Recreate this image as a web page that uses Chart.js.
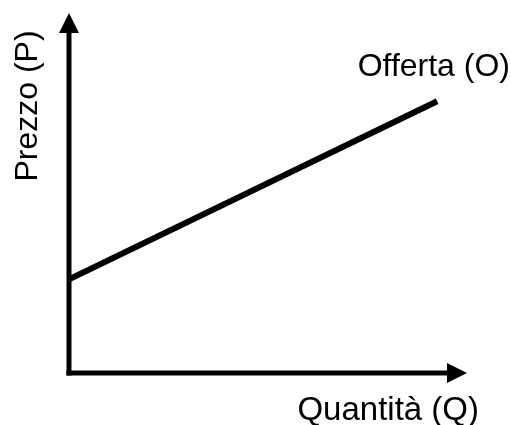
<!DOCTYPE html>
<html>
<head>
<meta charset="utf-8">
<script src="https://cdn.jsdelivr.net/npm/chart.js@4"></script>
<style>
  html, body { margin: 0; padding: 0; background: #fff; }
  canvas { display: block; }
</style>
</head>
<body>
<canvas id="supplyChart" width="511" height="425"></canvas>
<script>
// Curva di offerta: quantità -> prezzo (unità arbitrarie)
const quantities = [0, 9.25];
const prices = [2.6, 7.55];
const seriesLabel = 'Offerta (O)';
const xTitle = 'Quantità (Q)';
const yTitle = 'Prezzo (P)';

const FAMILY = '"Liberation Sans", Arial, sans-serif';

// Assi con frecce + etichette
const axesPlugin = {
  id: 'axesArrows',
  afterDatasetsDraw(chart) {
    const { ctx, scales: { x, y } } = chart;
    const x0 = x.getPixelForValue(0);
    const y0 = y.getPixelForValue(0);
    const xEnd = x.getPixelForValue(x.max);
    const yEnd = y.getPixelForValue(y.max);

    ctx.save();
    ctx.strokeStyle = '#000';
    ctx.fillStyle = '#000';
    ctx.lineWidth = 5;

    // asse verticale
    ctx.beginPath();
    ctx.moveTo(x0, y0 + 2.5);
    ctx.lineTo(x0, yEnd + 18);
    ctx.stroke();
    ctx.beginPath();
    ctx.moveTo(x0, yEnd);
    ctx.lineTo(x0 - 10, yEnd + 20);
    ctx.lineTo(x0 + 10, yEnd + 20);
    ctx.closePath();
    ctx.fill();

    // asse orizzontale
    ctx.beginPath();
    ctx.moveTo(x0 - 2.5, y0);
    ctx.lineTo(xEnd - 18, y0);
    ctx.stroke();
    ctx.beginPath();
    ctx.moveTo(xEnd, y0);
    ctx.lineTo(xEnd - 20, y0 - 10);
    ctx.lineTo(xEnd - 20, y0 + 10);
    ctx.closePath();
    ctx.fill();

    // testi
    ctx.textBaseline = 'alphabetic';
    ctx.textAlign = 'right';
    ctx.font = '32px ' + FAMILY;
    ctx.fillText(seriesLabel, 510, 76);
    ctx.font = '33px ' + FAMILY;
    ctx.fillText(xTitle, 479, 420);

    ctx.font = '32px ' + FAMILY;
    ctx.translate(37, 106);
    ctx.rotate(-Math.PI / 2);
    ctx.textAlign = 'center';
    ctx.fillText(yTitle, 0, 0);
    ctx.restore();
  }
};

new Chart(document.getElementById('supplyChart'), {
  type: 'line',
  data: {
    datasets: [{
      label: seriesLabel,
      data: quantities.map((q, i) => ({ x: q, y: prices[i] })),
      borderColor: '#000',
      borderWidth: 6,
      pointRadius: 0,
      fill: false,
      tension: 0
    }]
  },
  options: {
    responsive: false,
    animation: false,
    layout: { padding: { left: 69, right: 44, top: 13, bottom: 52 } },
    plugins: { legend: { display: false }, tooltip: { enabled: false } },
    scales: {
      x: { type: 'linear', min: 0, max: 10, display: false },
      y: { type: 'linear', min: 0, max: 10, display: false }
    }
  },
  plugins: [axesPlugin]
});
</script>
</body>
</html>
